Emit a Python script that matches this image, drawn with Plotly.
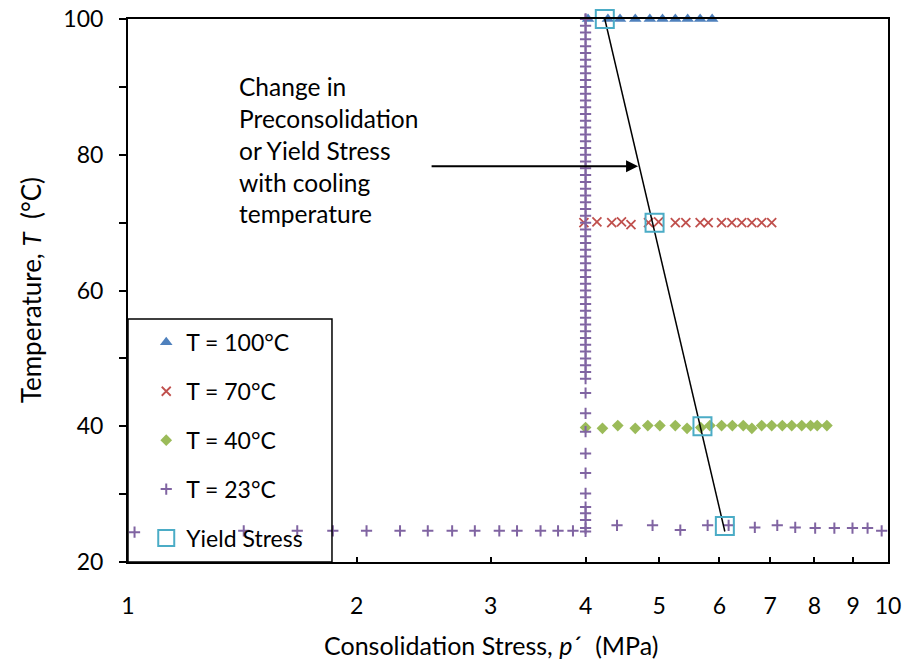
import math
import plotly.graph_objects as go

# ---------------- data ----------------
t100_p = [4.03, 4.28, 4.44, 4.65, 4.86, 5.05, 5.25, 5.45, 5.66, 5.87]
t100_T = [100, 100, 100, 100, 100, 100, 100, 100, 100, 100]

t70_p = [3.98, 4.14, 4.33, 4.46, 4.59, 4.84, 4.99, 5.25, 5.42, 5.66, 5.80,
         6.04, 6.23, 6.42, 6.62, 6.82, 7.03]
t70_T = [70.0, 70.1, 70.0, 70.1, 69.7, 70.0, 70.1, 70.0, 70.0, 70.0, 70.0,
         70.0, 70.0, 70.0, 70.0, 70.0, 70.0]

t40_p = [4.00, 4.21, 4.41, 4.65, 4.83, 5.01, 5.25, 5.44, 5.67, 5.83, 6.04,
         6.24, 6.45, 6.62, 6.82, 7.03, 7.26, 7.47, 7.70, 7.91, 8.07, 8.31]
t40_T = [39.8, 39.7, 40.1, 39.7, 40.1, 40.1, 40.1, 39.7, 39.8, 40.1, 40.1,
         40.1, 40.1, 39.7, 40.1, 40.1, 40.1, 40.1, 40.1, 40.1, 40.1, 40.1]

# 23 C series: loading at ~24.5 C, heating at p'=4 MPa, reloading after cooling
t23_p = [1.02, 1.42, 1.67, 1.86, 2.06, 2.28, 2.48, 2.67, 2.86, 3.08, 3.25,
         3.49, 3.68, 3.85,
         4.00, 4.00, 4.00, 4.00, 4.00, 4.00, 4.00, 4.00, 4.00, 4.00, 4.00,
         4.00, 4.00, 4.00, 4.00, 4.00, 4.00, 4.00, 4.00, 4.00, 4.00, 4.00,
         4.00, 4.00, 4.00, 4.00, 4.00, 4.00, 4.00, 4.00, 4.00, 4.00, 4.00,
         4.00, 4.00, 4.00, 4.00, 4.00, 4.00, 4.00, 4.00, 4.00, 4.00, 4.00,
         4.00, 4.00, 4.00, 4.00, 4.00, 4.00, 4.00, 4.00, 4.00, 4.00, 4.00,
         4.00, 4.00, 4.00, 4.00, 4.00, 4.00, 4.00, 4.00, 4.00, 4.00, 4.00,
         4.40, 4.90, 5.33, 5.79, 6.17, 6.68, 7.15, 7.55, 8.02, 8.50, 8.98,
         9.40, 9.81]
t23_T = [24.4, 24.6, 24.6, 24.6, 24.6, 24.6, 24.6, 24.6, 24.6, 24.6, 24.6,
         24.6, 24.6, 24.6,
         24.5, 25.0, 26.2, 27.2, 28.1, 30.1, 33.1, 36.0, 39.2, 41.9, 44.9,
         47, 48, 49, 50, 51, 52, 53, 54, 55, 56, 57,
         58, 59, 60, 61, 62, 63, 64, 65, 66, 67, 68,
         69, 70, 71, 72, 73, 74, 75, 76, 77, 78, 79,
         80, 81, 82, 83, 84, 85, 86, 87, 88, 89, 90,
         91, 92, 93, 94, 95, 96, 97, 98, 99, 100, 100,
         25.4, 25.4, 24.7, 25.4, 25.4, 25.1, 25.4, 25.1, 25.0, 25.0, 25.0,
         25.0, 24.6]

yield_p = [4.24, 4.93, 5.70, 6.10]
yield_T = [100, 70, 40, 25.3]

trend_p = [4.24, 6.10]
trend_T = [100, 24.5]

arrow_head_p = 4.69
arrow_T = 78.3

x_ticks = [1, 2, 3, 4, 5, 6, 7, 8, 9, 10]
x_tick_text = ["1", "2", "3", "4", "5", "6", "7", "8", "9", "10"]
y_ticks = [20, 40, 60, 80, 100]

x_title = "Consolidation Stress, <i>p</i>´  (MPa)"
y_title = "Temperature, <i>T</i>  (°C)"
note_text = ("Change in<br>Preconsolidation<br>or Yield Stress<br>"
             "with cooling<br>temperature")

# ---------------- styling ----------------
FONT = "Lato"
BLUE = "#4F81BD"
RED = "#C0504D"
GREEN = "#9BBB59"
PURPLE = "#8064A2"
CYAN = "#4BACC6"

fig = go.Figure()

fig.add_trace(go.Scatter(
    x=t100_p, y=t100_T, mode="markers", name="T = 100°C",
    legendgroup="a", legendrank=1, cliponaxis=False,
    marker=dict(symbol="triangle-up", size=11, color=BLUE)))
fig.add_trace(go.Scatter(
    x=t70_p, y=t70_T, mode="markers", name="T = 70°C",
    legendgroup="b", legendrank=2, cliponaxis=False,
    marker=dict(symbol="x-thin", size=9, color=RED,
                line=dict(color=RED, width=1.8))))
fig.add_trace(go.Scatter(
    x=t40_p, y=t40_T, mode="markers", name="T = 40°C",
    legendgroup="c", legendrank=3, cliponaxis=False,
    marker=dict(symbol="diamond", size=9, color=GREEN)))
fig.add_trace(go.Scatter(
    x=t23_p, y=t23_T, mode="markers", name="T = 23°C",
    legendgroup="d", legendrank=4, cliponaxis=False,
    marker=dict(symbol="cross-thin", size=8, color=PURPLE,
                line=dict(color=PURPLE, width=2))))
fig.add_trace(go.Scatter(
    x=trend_p, y=trend_T, mode="lines", showlegend=False,
    line=dict(color="black", width=1.5), hoverinfo="skip"))
fig.add_trace(go.Scatter(
    x=yield_p, y=yield_T, mode="markers", name="Yield Stress",
    legendgroup="e", legendrank=5, cliponaxis=False,
    marker=dict(symbol="square-open", size=18, color=CYAN,
                line=dict(color=CYAN, width=2))))

# legend frame (transparent, as in the reference)
fig.add_shape(type="rect", xref="paper", yref="paper",
              x0=0, x1=0.2684, y0=0, y1=0.4475,
              line=dict(color="black", width=1.5), fillcolor="rgba(0,0,0,0)")

# explanatory note and arrow
fig.add_annotation(xref="paper", yref="paper", x=0.1434, y=0.758,
                   xanchor="left", yanchor="middle", align="left",
                   text=note_text, showarrow=False,
                   font=dict(family=FONT, size=24.5, color="black"))
fig.add_annotation(x=math.log10(arrow_head_p), y=arrow_T, xref="x", yref="y",
                   text="", showarrow=True, ax=-208, ay=0,
                   arrowhead=2, arrowsize=1.2, arrowwidth=2,
                   arrowcolor="black")

# axis titles
fig.add_annotation(xref="paper", yref="paper", x=0.478, y=-0.153,
                   xanchor="center", yanchor="middle", showarrow=False,
                   text=x_title, font=dict(family=FONT, size=25, color="black"))
fig.add_annotation(xref="paper", yref="paper", x=-0.128, y=0.5,
                   xanchor="center", yanchor="middle", showarrow=False,
                   textangle=-90,
                   text=y_title, font=dict(family=FONT, size=26, color="black"))

fig.update_layout(
    width=904, height=663, autosize=False,
    margin=dict(l=128, r=16, t=19, b=101, pad=0, autoexpand=False),
    paper_bgcolor="white", plot_bgcolor="white",
    font=dict(family=FONT, size=22, color="black"),
    showlegend=True,
    legend=dict(x=0.024, y=0.444, xanchor="left", yanchor="top",
                traceorder="grouped", tracegroupgap=16,
                bgcolor="rgba(0,0,0,0)", borderwidth=0,
                font=dict(family=FONT, size=23, color="black")),
    xaxis=dict(type="log", range=[0, 1], tickvals=x_ticks,
               ticktext=x_tick_text, ticks="inside", ticklen=5,
               tickwidth=1.5, tickcolor="black", automargin=False,
               showline=True, linecolor="black", linewidth=2, mirror=True,
               showgrid=False, zeroline=False, ticklabelstandoff=22,
               tickfont=dict(family=FONT, size=23)),
    yaxis=dict(range=[20, 100], tickvals=y_ticks, ticks="outside",
               ticklen=7, tickwidth=1.5, tickcolor="black", automargin=False,
               minor=dict(dtick=10, ticks="outside", ticklen=7,
                          tickwidth=1.5, tickcolor="black"),
               showline=True, linecolor="black", linewidth=2, mirror=True,
               showgrid=False, zeroline=False, ticklabelstandoff=11,
               tickfont=dict(family=FONT, size=23)),
)

fig.write_html("out.html", config={"displayModeBar": False})
